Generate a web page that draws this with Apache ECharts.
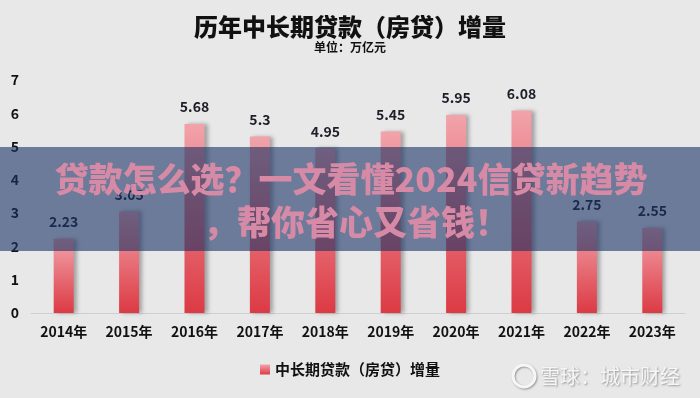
<!DOCTYPE html>
<html>
<head>
<meta charset="utf-8">
<script src="https://cdn.jsdelivr.net/npm/echarts@6/dist/echarts.min.js"></script>
<style>
html,body{margin:0;padding:0;background:#e8e8e8;}
#chart{width:700px;height:398px;}
</style>
</head>
<body>
<div id="chart"></div>
<script>
const categories = ['2014年','2015年','2016年','2017年','2018年','2019年','2020年','2021年','2022年','2023年'];
const values = [2.23, 3.05, 5.68, 5.3, 4.95, 5.45, 5.95, 6.08, 2.75, 2.55];
const seriesName = '中长期贷款（房贷）增量';
const titleText = '历年中长期贷款（房贷）增量';
const subText = '单位：万亿元';
const bannerLine1 = '贷款怎么选？一文看懂2024信贷新趋势';
const bannerLine2 = '，帮你省心又省钱！';
const watermark = '雪球：城市财经';

const FONT = '"Noto Sans CJK SC", "Noto Sans", sans-serif';
const chart = echarts.init(document.getElementById('chart'));
chart.setOption({
  backgroundColor: '#e8e8e8',
  animation: false,
  textStyle: { fontFamily: FONT },
  title: {
    text: titleText,
    subtext: subText,
    left: 'center',
    top: 10,
    itemGap: 2,
    textStyle: { fontSize: 24, fontWeight: 900, color: '#111', fontFamily: FONT },
    subtextStyle: { fontSize: 12, fontWeight: 'bold', color: '#111', fontFamily: FONT }
  },
  grid: { left: 31, right: 15, top: 80, bottom: 85, containLabel: false },
  legend: {
    bottom: 16,
    left: 'center',
    icon: 'rect',
    itemWidth: 10,
    itemHeight: 10,
    itemGap: 6,
    textStyle: { fontSize: 15, fontWeight: 'bold', color: '#111', fontFamily: FONT },
    data: [seriesName]
  },
  xAxis: {
    type: 'category',
    data: categories,
    axisLine: { lineStyle: { color: '#cfcfcf' } },
    axisTick: { show: false },
    axisLabel: { fontSize: 14, fontWeight: 'bold', color: '#111', margin: 12, fontFamily: FONT }
  },
  yAxis: {
    type: 'value',
    min: 0,
    max: 7,
    interval: 1,
    axisLine: { show: false },
    axisTick: { show: false },
    splitLine: { show: false },
    axisLabel: { fontSize: 14, fontWeight: 'bold', color: '#111', margin: 12, fontFamily: FONT }
  },
  series: [{
    name: seriesName,
    type: 'bar',
    data: values,
    barWidth: 20,
    itemStyle: {
      color: new echarts.graphic.LinearGradient(0, 0, 0, 1, [
        { offset: 0, color: '#f2a3aa' },
        { offset: 1, color: '#dc3a44' }
      ]),
      shadowColor: 'rgba(0,0,0,0.3)',
      shadowBlur: 4,
      shadowOffsetX: 3,
      shadowOffsetY: 0
    },
    label: {
      show: true,
      position: 'top',
      distance: 10,
      fontSize: 14,
      fontWeight: 'bold',
      color: '#1e1e28',
      fontFamily: FONT
    }
  }],
  graphic: [
    {
      type: 'rect',
      z: 100,
      shape: { x: 0, y: 147, width: 700, height: 104 },
      style: { fill: 'rgba(24,50,100,0.6)' },
      silent: true
    },
    {
      type: 'text',
      z: 101,
      x: 351,
      y: 179,
      style: {
        text: bannerLine1,
        fill: '#d68aa6',
        font: '900 34px ' + FONT,
        textAlign: 'center',
        textVerticalAlign: 'middle'
      },
      silent: true
    },
    {
      type: 'text',
      z: 101,
      x: 356,
      y: 222,
      style: {
        text: bannerLine2,
        fill: '#d68aa6',
        font: '900 34px ' + FONT,
        textAlign: 'center',
        textVerticalAlign: 'middle'
      },
      silent: true
    },
    {
      type: 'circle',
      z: 100,
      shape: { cx: 524, cy: 376, r: 11 },
      style: { fill: 'none', stroke: '#f6f6f6', lineWidth: 3, shadowColor: 'rgba(0,0,0,0.35)', shadowBlur: 2, shadowOffsetX: 1, shadowOffsetY: 1 },
      silent: true
    },
    {
      type: 'text',
      z: 100,
      x: 540,
      y: 376,
      style: {
        text: watermark,
        fill: '#f6f6f6',
        font: '20px ' + FONT,
        textAlign: 'left',
        textVerticalAlign: 'middle',
        textShadowColor: 'rgba(0,0,0,0.35)',
        textShadowBlur: 2,
        textShadowOffsetX: 1,
        textShadowOffsetY: 1
      },
      silent: true
    }
  ]
});
</script>
</body>
</html>
